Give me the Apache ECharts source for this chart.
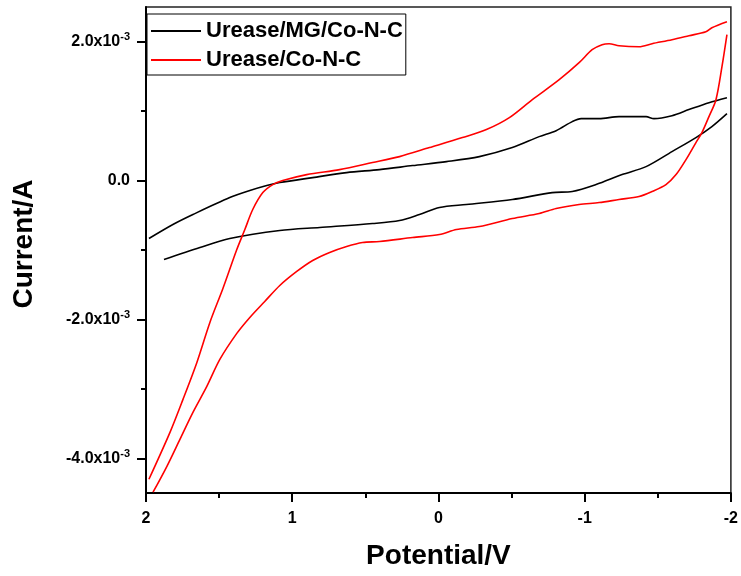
<!DOCTYPE html>
<html>
<head>
<meta charset="utf-8">
<script src="https://cdn.jsdelivr.net/npm/echarts@6/dist/echarts.min.js"></script>
<style>
html,body{margin:0;padding:0;background:#fff;}
#chart{width:741px;height:576px;}
</style>
</head>
<body>
<div id="chart"></div>
<script>
// Urease/MG/Co-N-C, forward (lower) branch
const blackLowerX = [1.877, 1.631, 1.427, 1.085, 0.812, 0.451, 0.266, 0.130, -0.007, -0.191, -0.505, -0.778, -0.915, -1.078, -1.256, -1.420, -1.597, -1.761, -1.870, -1.973];
const blackLowerY = [-1.137e-3, -0.964e-3, -0.835e-3, -0.719e-3, -0.676e-3, -0.619e-3, -0.576e-3, -0.489e-3, -0.388e-3, -0.345e-3, -0.273e-3, -0.173e-3, -0.158e-3, -0.058e-3, 0.086e-3, 0.201e-3, 0.417e-3, 0.619e-3, 0.777e-3, 0.964e-3];
// Urease/MG/Co-N-C, reverse (upper) branch
const blackUpperX = [-1.973, -1.850, -1.713, -1.597, -1.474, -1.420, -1.235, -1.099, -0.976, -0.915, -0.805, -0.689, -0.505, -0.280, -0.055, 0.177, 0.403, 0.628, 0.860, 1.085, 1.174, 1.290, 1.427, 1.679, 1.816, 1.980];
const blackUpperY = [1.194e-3, 1.122e-3, 1.022e-3, 0.935e-3, 0.892e-3, 0.921e-3, 0.921e-3, 0.892e-3, 0.892e-3, 0.849e-3, 0.719e-3, 0.633e-3, 0.475e-3, 0.345e-3, 0.273e-3, 0.216e-3, 0.158e-3, 0.115e-3, 0.043e-3, -0.029e-3, -0.072e-3, -0.144e-3, -0.245e-3, -0.489e-3, -0.633e-3, -0.835e-3];
// Urease/Co-N-C, steep rise + upper branch
const redUpperX = [1.980, 1.836, 1.747, 1.652, 1.563, 1.474, 1.379, 1.324, 1.270, 1.201, 1.133, 1.065, 0.901, 0.676, 0.451, 0.266, 0.061, -0.164, -0.328, -0.485, -0.642, -0.826, -0.962, -1.051, -1.119, -1.167, -1.235, -1.372, -1.461, -1.597, -1.713, -1.829, -1.870, -1.973];
const redUpperY = [-4.302e-3, -3.626e-3, -3.151e-3, -2.619e-3, -2.043e-3, -1.554e-3, -0.993e-3, -0.705e-3, -0.417e-3, -0.173e-3, -0.058e-3, 0.000e-3, 0.086e-3, 0.158e-3, 0.259e-3, 0.345e-3, 0.475e-3, 0.619e-3, 0.734e-3, 0.906e-3, 1.165e-3, 1.453e-3, 1.698e-3, 1.885e-3, 1.957e-3, 1.971e-3, 1.942e-3, 1.928e-3, 1.971e-3, 2.029e-3, 2.086e-3, 2.144e-3, 2.201e-3, 2.288e-3];
// Urease/Co-N-C, steep fall + lower branch
const redLowerX = [-1.973, -1.939, -1.898, -1.850, -1.802, -1.761, -1.693, -1.625, -1.556, -1.461, -1.372, -1.235, -1.099, -0.962, -0.805, -0.689, -0.505, -0.280, -0.123, -0.007, 0.177, 0.403, 0.519, 0.628, 0.744, 0.860, 0.969, 1.085, 1.188, 1.290, 1.379, 1.495, 1.584, 1.679, 1.768, 1.857, 1.952];
const redLowerY = [2.101e-3, 1.640e-3, 1.165e-3, 0.921e-3, 0.691e-3, 0.547e-3, 0.302e-3, 0.086e-3, -0.058e-3, -0.158e-3, -0.230e-3, -0.273e-3, -0.317e-3, -0.345e-3, -0.403e-3, -0.475e-3, -0.547e-3, -0.662e-3, -0.705e-3, -0.777e-3, -0.820e-3, -0.878e-3, -0.892e-3, -0.950e-3, -1.036e-3, -1.151e-3, -1.309e-3, -1.511e-3, -1.741e-3, -1.971e-3, -2.201e-3, -2.576e-3, -2.964e-3, -3.338e-3, -3.727e-3, -4.115e-3, -4.489e-3];

const seriesNames = ['Urease/MG/Co-N-C', 'Urease/Co-N-C'];
const xTickValues = [2, 1, 0, -1, -2];
const yLabelValues = [-4e-3, -2e-3, 0, 2e-3];
const yMinorValues = [-3e-3, -1e-3, 1e-3];

function pairs(xs, ys) { return xs.map((x, i) => [x, ys[i]]); }

const FONT = '"Liberation Sans", Arial, sans-serif';

const chart = echarts.init(document.getElementById('chart'), null, {renderer: 'canvas'});
const yCommon = {
  type: 'value', min: -4.5e-3, max: 2.5e-3, position: 'left',
  splitLine: {show: false}
};
chart.setOption({
  animation: false,
  backgroundColor: '#fff',
  grid: {left: 146, right: 9, top: 7, bottom: 83, show: true, borderColor: '#222', borderWidth: 1.5, backgroundColor: 'transparent'},
  legend: {
    data: seriesNames,
    orient: 'vertical', left: 147, top: 14,
    padding: [6, 3, 4, 4],
    itemGap: 7,
    itemWidth: 50, itemHeight: 2, icon: 'rect',
    borderColor: '#000', borderWidth: 1,
    textStyle: {fontFamily: FONT, fontWeight: 'bold', fontSize: 22, color: '#000'}
  },
  xAxis: {
    type: 'value', min: -2, max: 2, interval: 1, inverse: true, position: 'bottom',
    name: 'Potential/V', nameLocation: 'middle', nameGap: 49,
    nameTextStyle: {fontFamily: FONT, fontWeight: 'bold', fontSize: 28, color: '#000'},
    axisLine: {onZero: false, lineStyle: {color: '#000', width: 2}},
    axisTick: {length: 9, lineStyle: {color: '#000', width: 2}},
    minorTick: {show: true, splitNumber: 2, length: 5, lineStyle: {color: '#000', width: 2}},
    axisLabel: {margin: 18, fontFamily: FONT, fontWeight: 'bold', fontSize: 16, color: '#000',
      formatter: v => xTickValues.includes(v) ? String(v) : ''},
    splitLine: {show: false}
  },
  yAxis: [
    Object.assign({}, yCommon, {
      name: 'Current/A', nameLocation: 'middle', nameGap: 108, nameTextStyle: {fontFamily: FONT, fontWeight: 'bold', fontSize: 28, color: '#000', padding: [0, 0, 0, 12]},
      axisLine: {show: true, onZero: false, lineStyle: {color: '#000', width: 2}},
      axisTick: {show: true, length: 9, customValues: yLabelValues, lineStyle: {color: '#000', width: 2}},
      axisLabel: {
        show: true, margin: 16, customValues: yLabelValues,
        formatter: v => Math.abs(v) < 1e-12 ? '{m|0.0}' : '{m|' + (v * 1e3).toFixed(1) + 'x10}{s|-3}',
        rich: {
          m: {fontFamily: FONT, fontWeight: 'bold', fontSize: 16, color: '#000', lineHeight: 20},
          s: {fontFamily: FONT, fontWeight: 'bold', fontSize: 11, color: '#000', verticalAlign: 'top', lineHeight: 20, padding: [0, 0, 6, 0]}
        }
      }
    }),
    Object.assign({}, yCommon, {
      axisLine: {show: false, onZero: false},
      axisTick: {show: true, length: 5, customValues: yMinorValues, lineStyle: {color: '#000', width: 2}},
      axisLabel: {show: false}
    })
  ],
  series: [
    {name: seriesNames[0], type: 'line', data: pairs(blackLowerX, blackLowerY), showSymbol: false, symbol: 'none', smooth: 0.3, color: '#000', lineStyle: {width: 1.6, color: '#000'}},
    {name: seriesNames[0], type: 'line', data: pairs(blackUpperX, blackUpperY), showSymbol: false, symbol: 'none', smooth: 0.3, color: '#000', lineStyle: {width: 1.6, color: '#000'}},
    {name: seriesNames[1], type: 'line', data: pairs(redUpperX, redUpperY), showSymbol: false, symbol: 'none', smooth: 0.3, color: '#ff0000', lineStyle: {width: 1.6, color: '#ff0000'}},
    {name: seriesNames[1], type: 'line', data: pairs(redLowerX, redLowerY), showSymbol: false, symbol: 'none', smooth: 0.3, color: '#ff0000', lineStyle: {width: 1.6, color: '#ff0000'}}
  ]
});
</script>
</body>
</html>
